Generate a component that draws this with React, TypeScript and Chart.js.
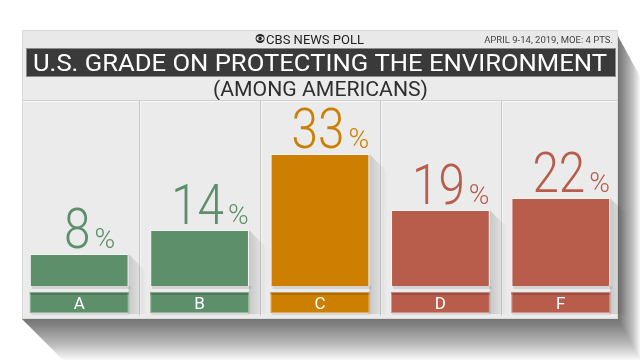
import React, { useEffect, useRef } from "react";
import { Chart, registerables } from "chart.js";

Chart.register(...registerables);

const categories = ["A", "B", "C", "D", "F"];
const values = [8, 14, 33, 19, 22];
const barColors = ["#5e8f6b", "#5e8f6b", "#cc7f00", "#b85c4c", "#b85c4c"];
const stripColors = ["#4b7757", "#4b7757", "#ad6b00", "#9c4b3e", "#9c4b3e"];
const titleText = "U.S. GRADE ON PROTECTING THE ENVIRONMENT";
const subtitleText = "(AMONG AMERICANS)";
const brandText = "CBS NEWS POLL";
const dateText = "APRIL 9-14, 2019, MOE: 4 PTS.";
const yMax = 46;

const CARD = { l: 22, r: 618, t: 30, b: 319 };

function fitText(ctx: CanvasRenderingContext2D, text: string, cx: number, y: number, width: number) {
  const w = ctx.measureText(text).width;
  const s = width / w;
  ctx.save();
  ctx.translate(cx, y);
  ctx.scale(s, 1);
  ctx.textAlign = "center";
  ctx.fillText(text, 0, 0);
  ctx.restore();
}

const framePlugin = {
  id: "frame",
  beforeDraw(chart: any) {
    const ctx: CanvasRenderingContext2D = chart.ctx;
    const xs = chart.scales.x;
    const { l, r, t, b } = CARD;
    ctx.save();
    ctx.fillStyle = "#ffffff";
    ctx.fillRect(0, 0, chart.width, chart.height);
    // cast shadow
    for (let i = 1; i <= 42; i++) {
      ctx.fillStyle = "rgba(0,0,0,0.015)";
      ctx.beginPath();
      ctx.moveTo(r, t + 6);
      ctx.lineTo(r + i * 0.55, t + 6 + i);
      ctx.lineTo(r + i * 0.55, b + i);
      ctx.lineTo(l + i, b + i);
      ctx.lineTo(l, b);
      ctx.closePath();
      ctx.fill();
    }
    // card
    ctx.fillStyle = "#ebebeb";
    ctx.fillRect(l, t, r - l, b - t);
    ctx.strokeStyle = "#d9d9d9";
    ctx.lineWidth = 1;
    ctx.strokeRect(l + 0.5, t + 0.5, r - l - 1, b - t - 1);
    // header row
    ctx.fillStyle = "#e9e9e9";
    ctx.fillRect(l + 1, t + 1, r - l - 2, 16);
    // brand
    ctx.fillStyle = "#222";
    ctx.font = "13px Roboto, 'Noto Sans', sans-serif";
    ctx.textBaseline = "alphabetic";
    ctx.textAlign = "left";
    const bw = ctx.measureText(brandText).width;
    const bx = 320 - (bw + 10) / 2 - 10;
    ctx.beginPath();
    ctx.arc(bx + 4, 38.5, 4.5, 0, Math.PI * 2);
    ctx.fill();
    ctx.fillStyle = "#e9e9e9";
    ctx.beginPath();
    ctx.ellipse(bx + 4, 38.5, 3.6, 2.2, 0, 0, Math.PI * 2);
    ctx.fill();
    ctx.fillStyle = "#222";
    ctx.beginPath();
    ctx.arc(bx + 4, 38.5, 1.7, 0, Math.PI * 2);
    ctx.fill();
    ctx.fillText(brandText, bx + 10, 43.5);
    // date
    ctx.fillStyle = "#444";
    ctx.font = "9.5px Roboto, 'Noto Sans', sans-serif";
    ctx.textAlign = "right";
    ctx.fillText(dateText, 613, 42.5);
    // title bar
    ctx.fillStyle = "#3a3a3a";
    ctx.fillRect(26, 48, 590, 29);
    ctx.strokeStyle = "#8c8c8c";
    ctx.strokeRect(26.5, 48.5, 589, 28);
    ctx.fillStyle = "#ffffff";
    ctx.font = "24px Roboto, 'Noto Sans', sans-serif";
    fitText(ctx, titleText, 320, 71, 574);
    // subtitle
    ctx.fillStyle = "#2e2e2e";
    ctx.font = "21px Roboto, 'Noto Sans', sans-serif";
    fitText(ctx, subtitleText, 320.5, 96, 215);
    // separator lines
    ctx.fillStyle = "#cfcfcf";
    ctx.fillRect(l + 1, 100, r - l - 2, 1);
    ctx.fillStyle = "#f7f7f7";
    ctx.fillRect(l + 1, 101, r - l - 2, 1);
    for (let i = 1; i < categories.length; i++) {
      const xb = Math.round((xs.getPixelForValue(i - 1) + xs.getPixelForValue(i)) / 2);
      ctx.fillStyle = "#c9c9c9";
      ctx.fillRect(xb, 101, 1, b - 104);
      ctx.fillStyle = "#f5f5f5";
      ctx.fillRect(xb + 1, 101, 1, b - 104);
    }
    ctx.restore();
  },
  beforeDatasetsDraw(chart: any) {
    const ctx: CanvasRenderingContext2D = chart.ctx;
    const meta = chart.getDatasetMeta(0);
    ctx.save();
    meta.data.forEach((bar: any) => {
      const right = bar.x + bar.width / 2;
      const left = bar.x - bar.width / 2;
      const top = bar.y;
      const d = 18;
      const g = ctx.createLinearGradient(right, 0, right + d, 0);
      g.addColorStop(0, "rgba(0,0,0,0.15)");
      g.addColorStop(1, "rgba(0,0,0,0)");
      ctx.fillStyle = g;
      ctx.beginPath();
      ctx.moveTo(right, top);
      ctx.lineTo(right + d, top + d);
      ctx.lineTo(right + d, 314);
      ctx.lineTo(right, 314);
      ctx.closePath();
      ctx.fill();
      ctx.fillStyle = "rgba(0,0,0,0.10)";
      ctx.fillRect(left + 2, bar.base, right - left, 3);
    });
    ctx.restore();
  },
  afterDatasetsDraw(chart: any) {
    const ctx: CanvasRenderingContext2D = chart.ctx;
    const meta = chart.getDatasetMeta(0);
    ctx.save();
    meta.data.forEach((bar: any, i: number) => {
      const left = bar.x - bar.width / 2;
      const w = bar.width;
      // label box
      ctx.fillStyle = "rgba(0,0,0,0.08)";
      ctx.fillRect(left + 1, 293, w, 22);
      ctx.fillStyle = barColors[i];
      ctx.fillRect(left, 292, w, 21);
      ctx.fillStyle = stripColors[i];
      ctx.fillRect(left, 292, w, 3);
      ctx.strokeStyle = "rgba(255,255,255,0.35)";
      ctx.lineWidth = 1;
      ctx.strokeRect(left + 0.5, 292.5, w - 1, 20);
      ctx.fillStyle = "#ffffff";
      ctx.font = "17px Roboto, 'Noto Sans', sans-serif";
      ctx.textAlign = "center";
      ctx.textBaseline = "alphabetic";
      ctx.fillText(categories[i], bar.x, 309);
      // percent label
      const num = String(values[i]);
      const base = bar.y - 6;
      ctx.fillStyle = barColors[i];
      ctx.font = "300 56px Roboto, 'Noto Sans', sans-serif";
      const sx = 0.85;
      const nw = ctx.measureText(num).width * sx;
      const nx = bar.x - 2 - nw / 2;
      ctx.save();
      ctx.translate(nx, base);
      ctx.scale(sx, 1);
      ctx.textAlign = "left";
      ctx.fillText(num, 0, 0);
      ctx.restore();
      ctx.font = "300 28px Roboto, 'Noto Sans', sans-serif";
      ctx.textAlign = "left";
      ctx.fillText("%", nx + nw + 4, base);
    });
    ctx.restore();
  },
};

export default function App() {
  const ref = useRef<HTMLCanvasElement | null>(null);
  useEffect(() => {
    if (!ref.current) return;
    const chart = new Chart(ref.current, {
      type: "bar",
      data: {
        labels: categories,
        datasets: [
          {
            data: values,
            backgroundColor: barColors,
            borderColor: "rgba(255,255,255,0.45)",
            borderWidth: 1,
            barPercentage: 0.82,
            categoryPercentage: 1,
          },
        ],
      },
      options: {
        responsive: false,
        animation: false,
        devicePixelRatio: 1,
        layout: { padding: { left: 19, right: 19, top: 102, bottom: 74 } },
        plugins: {
          legend: { display: false },
          title: { display: false },
          tooltip: { enabled: false },
        },
        scales: {
          x: { display: false, offset: true },
          y: { display: false, min: 0, max: yMax },
        },
      },
      plugins: [framePlugin],
    });
    return () => chart.destroy();
  }, []);
  return (
    <div style={{ position: "fixed", left: 0, top: 0, width: 640, height: 360, background: "#fff" }}>
      <canvas ref={ref} width={640} height={360} style={{ width: 640, height: 360, display: "block" }} />
    </div>
  );
}
